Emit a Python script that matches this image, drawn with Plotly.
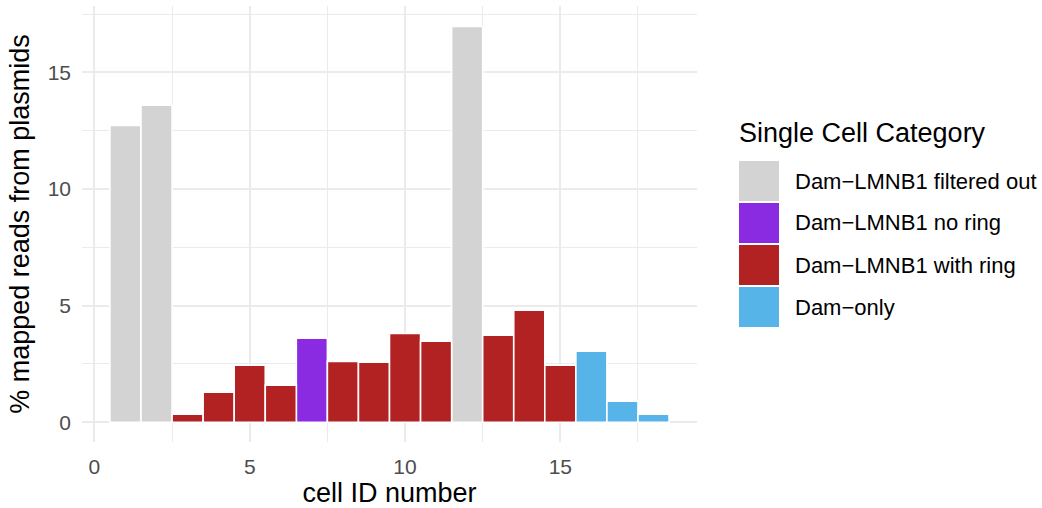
import plotly.graph_objects as go

cell_ids = list(range(1, 19))
pct_plasmid = [12.73, 13.59, 0.34, 1.29, 2.44, 1.59, 3.60, 2.61, 2.57,
               3.81, 3.47, 16.97, 3.73, 4.80, 2.44, 3.04, 0.90, 0.34]
cell_category = ["filtered", "filtered", "with", "with", "with", "with", "no", "with", "with",
                 "with", "with", "filtered", "with", "with", "with", "dam", "dam", "dam"]
category_keys = ["filtered", "no", "with", "dam"]
category_labels = ["Dam\u2212LMNB1 filtered out", "Dam\u2212LMNB1 no ring",
                   "Dam\u2212LMNB1 with ring", "Dam\u2212only"]
category_colors = ["#D3D3D3", "#8A2BE2", "#B22222", "#56B4E9"]
x_ticks = [0, 5, 10, 15]
y_ticks = [0, 5, 10, 15]

W, H = 1042, 508
L, R, T, B = 82, 697, 6, 442

def px(x):
    return (x - L) / (R - L)

def py(y):
    return (B - y) / (B - T)

FONT = "Liberation Sans, Arial, Helvetica, sans-serif"

fig = go.Figure()
for key, label, color in zip(category_keys, category_labels, category_colors):
    xs = [c for c, k in zip(cell_ids, cell_category) if k == key]
    ys = [v for v, k in zip(pct_plasmid, cell_category) if k == key]
    fig.add_trace(go.Bar(x=xs, y=ys, name=label, width=1,
                         marker=dict(color=color, line=dict(color="white", width=1.6)),
                         showlegend=False))

grid = "#EBEBEB"
fig.update_layout(
    width=W, height=H,
    margin=dict(l=L, r=W - R, t=T, b=H - B),
    plot_bgcolor="white", paper_bgcolor="white",
    barmode="overlay",
    font=dict(family=FONT, color="#4D4D4D", size=21),
    xaxis=dict(range=[-0.4, 19.4], tickvals=x_ticks, showgrid=True, gridcolor=grid,
               gridwidth=2, zeroline=False, showline=False, ticks="",
               ticklabelstandoff=10,
               tickfont=dict(size=21, color="#4D4D4D", family=FONT),
               minor=dict(tickvals=[2.5, 7.5, 12.5, 17.5], showgrid=True, gridcolor=grid, gridwidth=1),
               title=dict(text="cell ID number", font=dict(size=27, color="black", family=FONT),
                          standoff=6)),
    yaxis=dict(range=[-0.85, 17.85], tickvals=y_ticks, showgrid=True, gridcolor=grid,
               gridwidth=2, zeroline=False, showline=False, ticks="",
               ticklabelstandoff=10,
               tickfont=dict(size=21, color="#4D4D4D", family=FONT),
               minor=dict(tickvals=[2.5, 7.5, 12.5, 17.5], showgrid=True, gridcolor=grid, gridwidth=1),
               title=dict(text="% mapped reads from plasmids", font=dict(size=27, color="black", family=FONT),
                          standoff=10)),
)

# custom legend (ggplot-style large keys)
fig.add_annotation(x=px(737), y=py(133), xref="paper", yref="paper", text="Single Cell Category",
                   showarrow=False, xanchor="left", yanchor="middle",
                   font=dict(size=27, color="black", family=FONT))
key_tops = [161, 203, 245, 287]
for i, (label, color) in enumerate(zip(category_labels, category_colors)):
    top = key_tops[i]
    fig.add_shape(type="rect", xref="paper", yref="paper",
                  x0=px(739), x1=px(779), y0=py(top + 40), y1=py(top),
                  fillcolor=color, line=dict(width=0))
    fig.add_annotation(x=px(793), y=py(top + 20), xref="paper", yref="paper", text=label,
                       showarrow=False, xanchor="left", yanchor="middle",
                       font=dict(size=22, color="black", family=FONT))

fig.write_html("out.html")
